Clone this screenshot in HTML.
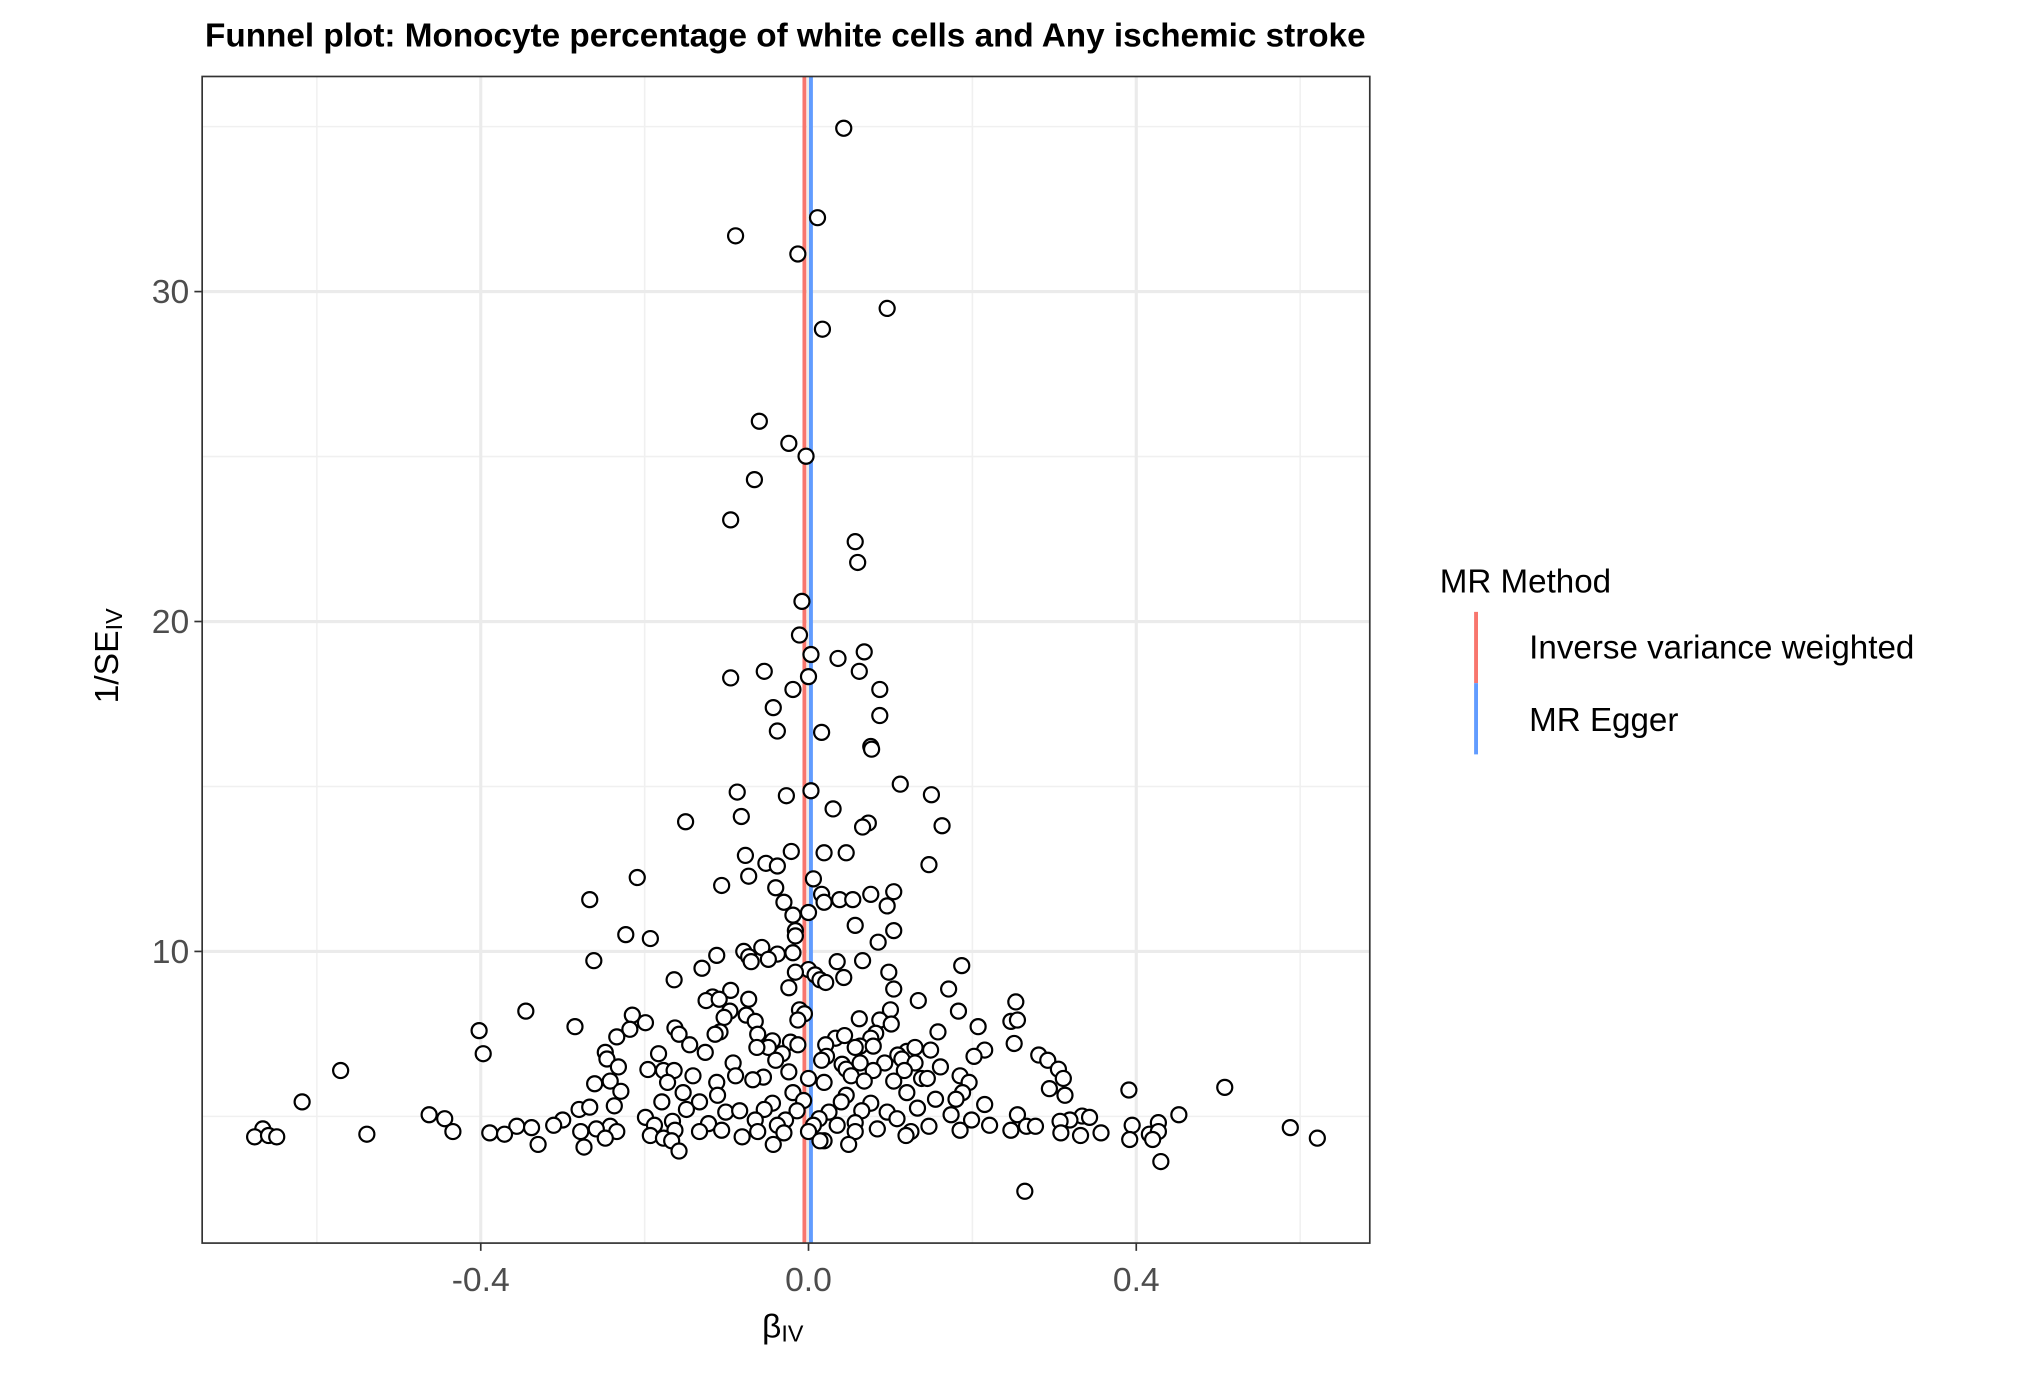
<!DOCTYPE html>
<html>
<head>
<meta charset="utf-8">
<style>
html,body{margin:0;padding:0;background:#fff;}
svg{display:block;font-family:"Liberation Sans",sans-serif;}
</style>
</head>
<body>
<svg id="chart" width="2032" height="1374" viewBox="0 0 1568 1060" preserveAspectRatio="none" xmlns="http://www.w3.org/2000/svg">
<rect x="0" y="0" width="1568" height="1060" fill="#fff"/>
<text x="606" y="36" text-anchor="middle" font-size="25.7" font-weight="bold" fill="#000">Funnel plot: Monocyte percentage of white cells and Any ischemic stroke</text>
<g id="grid"></g>
<g id="lines"></g>
<g id="points"></g>
<rect x="156" y="59" width="901" height="900" fill="none" stroke="#333" stroke-width="1.3"/>
<g id="axes"></g>
<text x="604" y="1032" text-anchor="middle" font-size="26" fill="#000">β<tspan font-size="18" dy="3">IV</tspan></text>
<text transform="translate(91,506) rotate(-90)" text-anchor="middle" font-size="26" fill="#000">1/SE<tspan font-size="18" dy="3">IV</tspan></text>
<g>
<text x="1111" y="457" font-size="25.6" fill="#000">MR Method</text>
<line x1="1139" y1="472" x2="1139" y2="527" stroke="#F8766D" stroke-width="3"/>
<text x="1180" y="508" font-size="25.6" fill="#000">Inverse variance weighted</text>
<line x1="1139" y1="527" x2="1139" y2="582" stroke="#619CFF" stroke-width="3"/>
<text x="1180" y="564" font-size="25.6" fill="#000">MR Egger</text>
</g>
</svg>
<script>
const betaValues = [0.043,0.011,-0.089,-0.013,0.096,0.017,-0.060,-0.024,-0.003,-0.066,-0.095,0.057,0.060,-0.008,-0.011,0.068,0.003,0.036,-0.054,0.062,0.000,-0.095,0.087,-0.019,-0.043,0.087,-0.038,0.016,0.076,0.077,0.112,-0.087,-0.027,0.003,0.150,0.030,-0.082,-0.150,0.073,0.163,0.066,-0.021,0.019,0.046,-0.077,-0.052,-0.038,0.147,-0.073,0.006,-0.209,-0.106,-0.040,0.016,0.076,0.104,-0.267,-0.030,0.019,0.038,0.054,0.096,0.000,-0.019,0.057,-0.016,0.104,-0.223,-0.193,-0.016,0.085,-0.057,-0.079,-0.038,-0.073,-0.112,-0.019,-0.070,-0.049,-0.262,0.066,0.000,0.035,0.187,-0.130,-0.016,0.008,0.098,-0.164,0.014,0.043,0.021,-0.024,0.104,0.171,-0.095,-0.117,-0.125,-0.109,-0.073,0.134,0.253,-0.096,-0.011,0.183,-0.345,-0.215,-0.076,-0.005,0.100,0.062,0.087,-0.103,-0.199,0.247,0.255,-0.065,-0.013,0.101,0.207,-0.285,-0.218,-0.163,-0.402,-0.108,0.158,-0.114,0.082,-0.234,-0.158,-0.062,0.033,0.044,0.076,-0.145,-0.044,-0.022,-0.049,-0.063,-0.013,0.021,0.063,0.057,0.079,0.120,0.130,0.149,0.215,0.251,-0.248,-0.397,-0.183,-0.126,-0.032,0.022,0.109,0.114,0.202,0.281,0.292,-0.246,-0.232,-0.092,-0.040,0.016,0.041,0.063,0.093,0.130,0.161,-0.571,-0.196,-0.177,-0.164,-0.141,-0.024,0.046,0.052,0.079,0.117,0.305,-0.055,0.000,-0.089,0.185,0.138,0.145,-0.261,-0.242,-0.172,-0.112,-0.068,0.019,0.068,0.104,0.196,0.294,0.311,0.391,0.508,-0.229,-0.111,-0.153,-0.019,0.046,0.120,0.188,0.313,-0.618,-0.280,-0.267,-0.237,-0.179,-0.133,-0.044,-0.006,0.040,0.076,0.180,0.215,0.155,-0.463,-0.444,-0.149,-0.101,-0.084,-0.054,-0.014,0.025,0.065,0.096,0.133,0.174,0.255,0.452,0.334,0.343,0.319,-0.300,-0.199,-0.166,-0.065,-0.028,0.013,0.057,0.108,0.199,0.221,0.307,0.427,-0.356,-0.338,-0.311,-0.242,-0.188,-0.122,-0.038,0.006,0.035,0.084,0.147,0.266,0.277,0.395,0.588,-0.666,-0.434,-0.389,-0.371,-0.539,-0.278,-0.259,-0.234,-0.163,-0.133,-0.106,-0.062,-0.030,0.000,0.057,0.125,0.185,0.247,0.308,0.332,0.357,0.416,0.427,-0.676,-0.659,-0.649,-0.330,-0.248,-0.193,-0.177,-0.081,0.019,0.049,0.119,0.392,0.420,0.621,-0.274,-0.167,-0.158,-0.043,0.014,0.430,0.264];
const invSeValues = [34.95,32.24,31.69,31.14,29.49,28.86,26.07,25.40,25.01,24.30,23.08,22.42,21.79,20.61,19.59,19.08,19.00,18.88,18.49,18.49,18.33,18.29,17.94,17.94,17.39,17.15,16.68,16.64,16.21,16.13,15.07,14.83,14.72,14.87,14.75,14.32,14.09,13.93,13.89,13.81,13.77,13.03,12.99,12.99,12.91,12.67,12.59,12.63,12.28,12.20,12.24,12.00,11.93,11.73,11.73,11.81,11.57,11.49,11.49,11.57,11.57,11.38,11.18,11.10,10.79,10.63,10.63,10.51,10.39,10.47,10.28,10.12,10.00,9.92,9.84,9.88,9.96,9.69,9.76,9.72,9.72,9.45,9.69,9.57,9.49,9.37,9.29,9.37,9.14,9.14,9.21,9.06,8.90,8.86,8.86,8.82,8.62,8.51,8.55,8.55,8.51,8.47,8.19,8.23,8.19,8.19,8.07,8.07,8.11,8.23,7.96,7.92,8.00,7.84,7.88,7.92,7.88,7.92,7.80,7.72,7.72,7.64,7.68,7.60,7.56,7.56,7.49,7.52,7.41,7.49,7.49,7.37,7.45,7.37,7.17,7.29,7.25,7.09,7.09,7.17,7.17,7.13,7.09,7.13,6.97,7.09,7.01,7.01,7.21,6.94,6.90,6.90,6.94,6.90,6.82,6.86,6.74,6.82,6.86,6.70,6.74,6.50,6.62,6.70,6.70,6.58,6.62,6.62,6.62,6.50,6.39,6.42,6.39,6.39,6.23,6.35,6.43,6.23,6.39,6.39,6.43,6.19,6.15,6.23,6.23,6.15,6.15,5.99,6.07,6.03,6.03,6.11,6.03,6.07,6.07,6.03,5.84,6.15,5.80,5.88,5.76,5.64,5.72,5.72,5.64,5.72,5.72,5.64,5.44,5.21,5.28,5.32,5.44,5.44,5.40,5.48,5.44,5.40,5.52,5.36,5.52,5.05,4.93,5.21,5.13,5.17,5.21,5.17,5.13,5.17,5.13,5.25,5.05,5.05,5.05,5.01,4.97,4.89,4.89,4.97,4.85,4.89,4.89,4.93,4.81,4.93,4.89,4.73,4.85,4.81,4.70,4.66,4.73,4.70,4.73,4.78,4.73,4.73,4.73,4.62,4.70,4.70,4.70,4.73,4.66,4.62,4.54,4.50,4.46,4.46,4.54,4.62,4.54,4.58,4.54,4.58,4.54,4.50,4.54,4.54,4.54,4.58,4.58,4.50,4.42,4.50,4.46,4.54,4.38,4.42,4.38,4.15,4.34,4.42,4.34,4.38,4.26,4.15,4.42,4.30,4.30,4.34,4.07,4.26,3.95,4.15,4.26,3.63,2.73];
const methodNames = ["Inverse variance weighted","MR Egger"];
const methodSlopes = [-0.005,0.003];
const methodColors = ["#F8766D","#619CFF"];
const xTicks = [-0.4,0.0,0.4];
const xTickLabels = ["-0.4","0.0","0.4"];
const xMinor = [-0.6,-0.2,0.2,0.6];
const yTicks = [10,20,30];
const yTickLabels = ["10","20","30"];
const yMinor = [5,15,25,35];

const X0=156,X1=1057,Y0=59,Y1=959;
const xMin=-0.740,xMax=0.685,yMin=1.16,yMax=36.52;
function xs(v){return X0+(v-xMin)/(xMax-xMin)*(X1-X0);}
function ys(v){return Y1-(v-yMin)/(yMax-yMin)*(Y1-Y0);}
const NS="http://www.w3.org/2000/svg";
function mk(tag,attrs,parent){const e=document.createElementNS(NS,tag);for(const k in attrs)e.setAttribute(k,attrs[k]);parent.appendChild(e);return e;}
const grid=document.getElementById('grid');
mk('rect',{x:X0,y:Y0,width:X1-X0,height:Y1-Y0,fill:'#fff'},grid);
xMinor.forEach(v=>{const l=mk('line',{x1:xs(v),x2:xs(v),y1:Y0,y2:Y1,stroke:'#f0f0f0','stroke-width':1.2},grid);

});
yMinor.forEach(v=>{const l=mk('line',{x1:X0,x2:X1,y1:ys(v),y2:ys(v),stroke:'#f0f0f0','stroke-width':1.2},grid);

});
xTicks.forEach(v=>{const l=mk('line',{x1:xs(v),x2:xs(v),y1:Y0,y2:Y1,stroke:'#ebebeb','stroke-width':2.4},grid);

});
yTicks.forEach(v=>{const l=mk('line',{x1:X0,x2:X1,y1:ys(v),y2:ys(v),stroke:'#ebebeb','stroke-width':2.4},grid);

});
const lines=document.getElementById('lines');
methodSlopes.forEach((b,i)=>{const l=mk('line',{x1:xs(b),x2:xs(b),y1:Y0,y2:Y1,stroke:methodColors[i],'stroke-width':3},lines);

});
const pts=document.getElementById('points');
betaValues.forEach((b,i)=>{const c=mk('circle',{cx:xs(b),cy:ys(invSeValues[i]),r:5.8,fill:'#fff',stroke:'#000','stroke-width':1.7},pts);

});
const axes=document.getElementById('axes');
xTicks.forEach((v,i)=>{mk('line',{x1:xs(v),x2:xs(v),y1:Y1,y2:Y1+6,stroke:'#333','stroke-width':1.3},axes);
const t=mk('text',{x:xs(v),y:Y1+37,'text-anchor':'middle','font-size':26,fill:'#4d4d4d'},axes);t.textContent=xTickLabels[i];

});
yTicks.forEach((v,i)=>{mk('line',{x1:X0-6,x2:X0,y1:ys(v),y2:ys(v),stroke:'#333','stroke-width':1.3},axes);
const t=mk('text',{x:X0-10,y:ys(v)+9,'text-anchor':'end','font-size':26,fill:'#4d4d4d'},axes);t.textContent=yTickLabels[i];

});
</script>
</body>
</html>
